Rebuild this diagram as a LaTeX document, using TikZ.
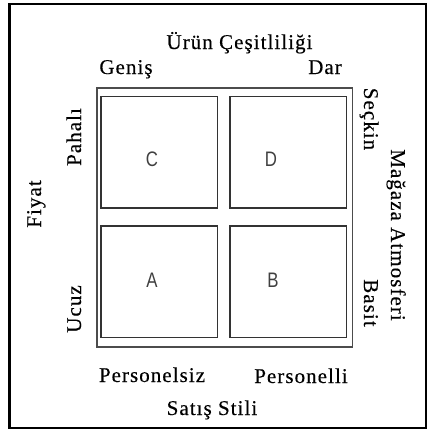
\documentclass[tikz,border=0pt]{standalone}
\usepackage{fontspec}
\setmainfont{Liberation Serif}[LetterSpace=5,FakeBold=0.3]
\newfontfamily\lettfont{Liberation Sans}
\begin{document}
\begin{tikzpicture}[x=1pt,y=-1pt,
  lab/.style={font=\fontsize{21}{25}\selectfont, inner sep=0pt, anchor=base, text=black},
  letter/.style={font=\lettfont\fontsize{21}{25}\selectfont, inner sep=0pt, text=black!75},
  cell/.style={draw=black!80, line width=1.5pt, minimum width=116.5pt, minimum height=111.5pt, inner sep=0pt, outer sep=0pt},
  grid/.style={draw=black!70, line width=1.8pt, minimum width=255.5pt, minimum height=259pt, inner sep=0pt, outer sep=0pt},
  frame/.style={draw=black, line width=2.3pt, minimum width=416.3pt, minimum height=424pt, inner sep=0pt, outer sep=0pt}]
\useasboundingbox (0,0) rectangle (427,431);
\node[frame] (fr) at (217.65,216) {};
\node[grid] (gr) at (224.75,217.5) {};
\node[cell] (bc) at (159.25,152.25) {};
\node[cell] (bd) at (288.25,152.25) {};
\node[cell] (ba) at (159.25,281.75) {};
\node[cell] (bb) at (288.25,281.75) {};
\node[letter] (lc) at (152,159) {\scalebox{0.8}[1]{C}};
\node[letter] (ld) at (271,159) {\scalebox{0.8}[1]{D}};
\node[letter] (la) at (152,280) {\scalebox{0.8}[1]{A}};
\node[letter] (lb) at (273,280) {\scalebox{0.8}[1]{B}};
\node[lab] (urun) at (239.5,49) {Ürün Çeşitliliği};
\node[lab] (genis) at (126,74) {Geniş};
\node[lab] (dar) at (325,74) {Dar};
\node[lab] (psiz) at (152,382) {Personelsiz};
\node[lab] (pli) at (301,383) {Personelli};
\node[lab] (satis) at (212,415) {Satış Stili};
\node[lab, rotate=90] (pahali) at (81,137) {Pahalı};
\node[lab, rotate=90] (ucuz) at (81,309) {Ucuz};
\node[lab, rotate=90] (fiyat) at (41,204) {Fiyat};
\node[lab, rotate=-90] (seckin) at (364,119) {Seçkin};
\node[lab, rotate=-90] (basit) at (364,303) {Basit};
\node[lab, rotate=-90] (magaza) at (391,235) {Mağaza Atmosferi};
\end{tikzpicture}
\end{document}
